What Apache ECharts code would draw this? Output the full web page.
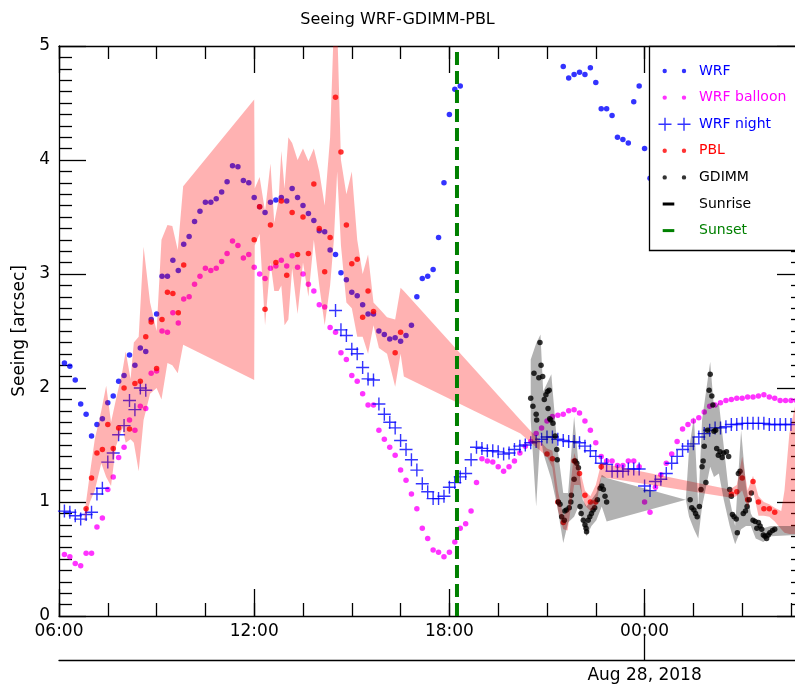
<!DOCTYPE html>
<html><head><meta charset="utf-8">
<script src="https://cdn.jsdelivr.net/npm/echarts@6/dist/echarts.min.js"></script>
<style>html,body{margin:0;padding:0;background:#fff}#c{width:795px;height:688px}</style>
</head><body><div id="c"></div>
<script>
const FONT = 'DejaVu Sans';
// times are "HH:MM" on Aug 27; hours >= 24 are Aug 28
const wrf = [
['06:10',2.22],['06:20',2.19],['06:30',2.07],['06:40',1.86],['06:50',1.77],['07:00',1.58],['07:10',1.68],['07:20',1.73],['07:30',1.87],['07:40',1.93],['07:50',2.06],['08:00',2.11],['08:10',2.29],['08:20',2.20],['08:30',2.35],['08:40',2.32],['08:50',2.60],['09:00',2.65],['09:10',2.98],['09:20',2.98],['09:30',3.12],['09:40',3.03],['09:50',3.26],['10:00',3.33],['10:10',3.46],['10:20',3.55],['10:30',3.63],['10:40',3.63],['10:50',3.66],['11:00',3.72],['11:10',3.81],['11:20',3.95],['11:30',3.94],['11:40',3.82],['11:50',3.80],['12:00',3.67],['12:10',3.59],['12:20',3.54],['12:30',3.63],['12:40',3.65],['12:50',3.67],['13:00',3.64],['13:10',3.75],['13:20',3.67],['13:30',3.60],['13:40',3.53],['13:50',3.47],['14:00',3.38],['14:10',3.37],['14:20',3.21],['14:30',3.17],['14:40',3.01],['14:50',2.95],['15:00',2.84],['15:10',2.81],['15:20',2.73],['15:30',2.65],['15:40',2.65],['15:50',2.50],['16:00',2.47],['16:10',2.43],['16:20',2.44],['16:30',2.41],['16:40',2.46],['16:50',2.55],['17:00',2.80],['17:10',2.96],['17:20',2.98],['17:30',3.04],['17:40',3.32],['17:50',3.80],['18:00',4.40],['18:10',4.62],['18:20',4.65],
['21:30',4.82],['21:40',4.72],['21:50',4.75],['22:00',4.77],['22:10',4.75],['22:20',4.81],['22:30',4.68],['22:40',4.45],['22:50',4.45],['23:00',4.39],['23:10',4.20],['23:20',4.18],['23:30',4.15],['23:40',4.51],['23:50',4.65],['24:00',4.10],['24:10',3.84]
];
const wrfBalloon = [
['06:10',0.54],['06:20',0.52],['06:30',0.46],['06:40',0.44],['06:50',0.55],['07:00',0.55],['07:10',0.78],['07:20',0.86],['07:30',1.11],['07:40',1.22],['07:50',1.39],['08:00',1.48],['08:10',1.72],['08:20',1.63],['08:30',1.84],['08:40',1.82],['08:50',2.13],['09:00',2.15],['09:10',2.50],['09:20',2.49],['09:30',2.66],['09:40',2.57],['09:50',2.78],['10:00',2.80],['10:10',2.91],['10:20',2.98],['10:30',3.05],['10:40',3.03],['10:50',3.05],['11:00',3.11],['11:10',3.18],['11:20',3.29],['11:30',3.25],['11:40',3.14],['11:50',3.17],['12:00',3.06],['12:10',3.00],['12:20',2.96],['12:30',3.05],['12:40',3.07],['12:50',3.12],['13:00',3.07],['13:10',3.16],['13:20',3.06],['13:30',3.00],['13:40',2.91],['13:50',2.85],['14:00',2.73],['14:10',2.71],['14:20',2.53],['14:30',2.49],['14:40',2.31],['14:50',2.25],['15:00',2.11],['15:10',2.06],['15:20',1.95],['15:30',1.85],['15:40',1.85],['15:50',1.63],['16:00',1.55],['16:10',1.48],['16:20',1.41],['16:30',1.28],['16:40',1.19],['16:50',1.07],['17:00',0.94],['17:10',0.77],['17:20',0.68],['17:30',0.58],['17:40',0.56],['17:50',0.52],['18:00',0.56],['18:10',0.65],['18:20',0.77],['18:30',0.81],['18:40',0.92],['18:50',1.17],['19:00',1.38],['19:10',1.36],['19:20',1.35],['19:30',1.31],['19:40',1.27],['19:50',1.31],['20:00',1.36],['20:10',1.43],['20:20',1.49],['20:30',1.53],['20:40',1.60],['20:50',1.65],['21:00',1.71],['21:10',1.75],['21:20',1.76],['21:30',1.77],['21:40',1.80],['21:50',1.81],['22:00',1.78],['22:10',1.71],['22:20',1.63],['22:30',1.52],['22:40',1.40],['22:50',1.36],['23:00',1.36],['23:10',1.32],['23:20',1.32],['23:30',1.36],['23:40',1.36],['23:50',1.31],['24:00',1.00],['24:10',0.91],['24:20',1.13],['24:30',1.24],['24:40',1.34],['24:50',1.42],['25:00',1.53],['25:10',1.64],['25:20',1.68],['25:30',1.71],['25:40',1.74],['25:50',1.79],['26:00',1.84],['26:10',1.85],['26:20',1.87],['26:30',1.89],['26:40',1.90],['26:50',1.91],['27:00',1.91],['27:10',1.92],['27:20',1.92],['27:30',1.93],['27:40',1.94],['27:50',1.92],['28:00',1.91],['28:10',1.89],['28:20',1.89],['28:30',1.89],['28:40',1.89]
];
const wrfNight = [
['06:10',0.92],['06:20',0.91],['06:30',0.88],['06:40',0.85],['06:50',0.89],['07:00',0.91],['07:10',1.07],['07:20',1.12],['07:30',1.35],['07:40',1.43],['07:50',1.59],['08:00',1.67],['08:10',1.89],['08:20',1.81],['08:30',2.00],['08:40',1.98],
['14:30',2.68],['14:40',2.51],['14:50',2.46],['15:00',2.34],['15:10',2.30],['15:20',2.18],['15:30',2.08],['15:40',2.07],['15:50',1.86],['16:00',1.77],['16:10',1.70],['16:20',1.65],['16:30',1.54],['16:40',1.46],['16:50',1.37],['17:00',1.28],['17:10',1.16],['17:20',1.09],['17:30',1.03],['17:40',1.03],['17:50',1.05],['18:00',1.13],['18:10',1.17],['18:20',1.22],['18:30',1.25],['18:40',1.37],['18:50',1.48],['19:00',1.47],['19:10',1.45],['19:20',1.45],['19:30',1.44],['19:40',1.42],['19:50',1.43],['20:00',1.46],['20:10',1.49],['20:20',1.50],['20:30',1.52],['20:40',1.53],['20:50',1.55],['21:00',1.57],['21:10',1.57],['21:20',1.55],['21:30',1.54],['21:40',1.53],['21:50',1.53],['22:00',1.52],['22:10',1.49],['22:20',1.45],['22:30',1.40],['22:40',1.34],['22:50',1.33],['23:00',1.27],['23:10',1.27],['23:20',1.27],['23:30',1.29],['23:40',1.29],['23:50',1.29],['24:00',1.14],['24:10',1.10],['24:20',1.18],['24:30',1.20],['24:40',1.25],['24:50',1.34],['25:00',1.40],['25:10',1.46],['25:20',1.49],['25:30',1.51],['25:40',1.57],['25:50',1.60],['26:00',1.63],['26:10',1.65],['26:20',1.65],['26:30',1.66],['26:40',1.68],['26:50',1.68],['27:00',1.69],['27:10',1.69],['27:20',1.69],['27:30',1.69],['27:40',1.69],['27:50',1.68],['28:00',1.68],['28:10',1.68],['28:20',1.68],['28:30',1.68]
];
const pbl = [
['06:50',0.94],['07:00',1.21],['07:10',1.43],['07:20',1.46],['07:30',1.68],['07:40',1.47],['07:50',1.65],['08:00',2.00],['08:10',1.64],['08:20',2.04],['08:30',2.06],['08:40',2.45],['08:50',2.58],['09:00',2.17],['09:10',2.60],['09:20',2.84],['09:30',2.83],['09:40',2.66],['09:50',3.08],
['12:00',3.30],['12:10',3.59],['12:20',2.69],['12:30',3.43],['12:40',3.10],['12:50',3.64],['13:00',2.99],['13:10',3.54],['13:20',3.17],['13:30',3.50],['13:40',3.18],['13:50',3.79],['14:00',3.40],['14:10',3.02],['14:20',3.32],['14:30',4.55],['14:40',4.07],['14:50',3.43],['15:00',3.09],['15:10',3.13],['15:20',2.62],['15:30',2.85],['15:40',2.67],['16:20',2.31],['16:30',2.49],
['21:00',1.42],['21:10',1.38],['21:20',1.00],['21:30',0.82],['21:50',1.36],['22:00',1.25],['22:10',1.06],['22:20',1.00],['22:30',1.00],['22:40',1.31],
['26:40',1.07],['26:50',1.09],['27:00',1.21],['27:10',1.02],['27:20',1.18],['27:30',1.00],['27:40',0.94],['27:50',0.94],['28:00',0.91]
];
const gdimm = [
['20:30',1.91],['20:34',1.84],['20:36',2.13],['20:40',1.77],['20:41',1.72],['20:45',2.09],['20:47',2.40],['20:49',2.20],['20:52',2.10],['20:55',1.90],['20:58',1.94],['21:01',1.97],['21:04',1.98],['21:02',1.82],['21:05',1.73],['21:07',1.72],['21:11',1.69],['21:15',1.58],['21:18',1.46],['21:19',1.37],['21:21',1.00],['21:24',0.98],['21:27',0.87],['21:32',0.84],['21:33',0.92],['21:36',0.93],['21:41',0.95],['21:44',1.00],['21:45',1.06],['21:50',1.20],['21:52',1.36],['21:55',1.34],['21:58',1.30],['22:01',0.96],['22:03',0.90],['22:07',0.84],['22:10',0.80],['22:12',0.77],['22:13',0.74],['22:16',0.84],['22:19',0.87],['22:22',0.90],['22:25',0.93],['22:28',0.95],['22:33',1.02],['22:38',1.12],['22:41',1.14],['22:44',1.11],['22:47',1.05],['22:50',1.00],
['25:24',1.02],['25:27',0.95],['25:31',0.93],['25:34',0.90],['25:37',0.87],['25:41',0.96],['25:44',1.11],['25:46',1.31],['25:48',1.36],['25:50',1.49],['25:53',1.17],['25:56',1.63],['25:59',1.98],['26:01',2.12],['26:04',1.93],['26:06',1.85],['26:08',1.62],['26:11',1.63],['26:13',1.47],['26:16',1.41],['26:19',1.44],['26:23',1.39],['26:26',1.43],['26:31',1.44],['26:35',1.40],['26:37',1.11],['26:40',1.05],['26:42',0.89],['26:45',0.87],['26:49',0.85],['26:51',0.73],['26:53',1.25],['26:56',1.27],['27:02',0.90],['27:06',0.92],['27:09',0.96],['27:13',1.02],['27:17',1.08],['27:20',0.84],['27:24',0.83],['27:27',0.77],['27:30',0.82],['27:33',0.79],['27:36',0.76],['27:39',0.71],['27:42',0.70],['27:45',0.68],['27:48',0.71],['27:51',0.73],['27:56',0.75],['28:00',0.76]
];
// [time, lower, upper]
const pblBand = [
['06:47',0.82,0.90],['06:57',1.00,1.25],['07:06',1.10,1.55],['07:18',1.34,1.80],['07:27',1.22,2.02],['07:36',1.14,1.70],['07:45',1.49,1.90],['07:57',1.65,2.15],['08:03',1.52,2.32],['08:12',1.55,2.08],['08:18',1.52,2.40],['08:27',1.27,2.45],['08:36',1.72,3.24],['08:48',1.95,2.75],['09:00',2.00,2.50],['09:09',1.90,3.30],['09:20',2.22,3.43],['09:29',2.20,3.42],['09:39',2.13,3.21],['09:49',2.38,3.77],['12:00',2.07,4.53],
['12:01',3.25,3.75],['12:10',3.35,3.85],['12:20',2.55,3.55],['12:30',3.10,3.97],['12:37',2.85,3.45],['12:45',2.85,3.65],['12:50',2.90,4.08],['12:56',2.55,3.75],['13:03',2.60,4.20],['13:10',3.05,4.15],['13:20',2.65,4.00],['13:30',3.10,4.10],['13:40',2.80,3.99],['13:50',3.30,4.10],['14:00',2.90,3.90],['14:10',2.55,3.60],['14:20',2.90,4.20],['14:27',3.30,5.20],['14:33',3.90,5.20],['14:40',3.25,4.00],['14:50',2.75,3.70],['15:00',2.70,3.90],['15:10',2.45,3.30],['15:20',2.45,3.00],['15:30',2.30,3.17],['15:40',2.55,2.75],['15:50',2.35,2.70],['16:05',2.30,2.62],['16:20',2.01,2.60],['16:30',2.30,2.88],['16:36',2.10,2.85],
['20:11',1.60,1.72],['21:00',1.40,1.47],['21:10',1.30,1.45],['21:20',0.93,1.10],['21:30',0.76,0.88],['21:38',0.75,0.92],['21:50',1.15,1.43],['22:00',1.15,1.30],['22:10',0.97,1.10],['22:20',0.92,1.05],['22:30',0.95,1.15],['22:40',1.22,1.34],
['26:37',1.04,1.11],['26:50',1.05,1.15],['27:00',1.10,1.40],['27:10',0.95,1.10],['27:20',1.10,1.23],['27:30',0.88,1.05],['27:40',0.88,1.00],['27:50',0.87,0.98],['28:00',0.83,0.95],['28:12',0.76,0.92],['28:18',0.73,1.10],['28:27',0.72,1.60],['28:40',0.72,1.90]
];
const gdimmBand = [
['20:30',1.72,2.25],['20:40',0.96,2.39],['20:48',1.60,2.47],['20:53',1.43,1.97],['21:08',1.20,2.12],['21:19',0.96,1.49],['21:30',0.64,1.08],['21:39',0.82,1.08],['21:50',0.87,1.75],['21:58',0.96,1.34],['22:06',0.82,1.02],['22:13',0.70,0.96],['22:22',0.79,1.02],['22:31',0.84,1.08],['22:41',0.96,1.24],['22:50',0.83,1.21],
['25:16',1.02,1.02],['25:22',0.87,1.46],['25:31',0.76,1.75],['25:39',0.68,0.96],['25:46',0.96,1.72],['26:01',1.31,2.23],['26:08',1.22,1.82],['26:17',1.25,1.87],['26:26',1.02,1.49],['26:37',0.79,1.02],['26:47',0.63,0.79],['26:58',0.76,1.63],['27:07',0.79,1.14],['27:16',0.79,0.90],['27:25',0.68,0.82],['27:39',0.65,0.77],['27:53',0.70,0.79],['28:38',0.71,0.79],['28:55',0.71,0.79]
];
const sunsetTime = '18:14';
const xMin = 6, xMax = 28.9, xMajor = 6, xMinor = 1.5;
const yMin = 0, yMax = 5, yMajor = 1;
const dateLabel = 'Aug 28, 2018';
const titleText = 'Seeing WRF-GDIMM-PBL';

function t(s){ const p = s.split(':'); return (+p[0]) + (+p[1])/60; }
const pts = a => a.map(d => [t(d[0]), d[1]]);
function hhmm(v){ const h = Math.round(v) % 24; return (h<10?'0':'') + h + ':00'; }

const BLUE='#0000ff', MAG='#ff00ff', RED='#ff0000', BLK='#000000', GRN='#008000';
const crossPath = 'path://M5.8 0h1.4v13h-1.4zM0 5.8h13v1.4h-13z';
const iconDots = 'path://M0 0M36 14M4.5 7a2.2 2.2 0 1 0 4.4 0a2.2 2.2 0 1 0 -4.4 0zM23.8 7a2.2 2.2 0 1 0 4.4 0a2.2 2.2 0 1 0 -4.4 0z';
const iconCross = 'path://M0 0M36 14M0.5 6.3h13v1.4h-13zM6.3 0.5h1.4v13h-1.4zM19.5 6.3h13v1.4h-13zM25.3 0.5h1.4v13h-1.4z';
const iconLine = 'path://M0 0M36 14M4.7 5.5h11.6v3h-11.6z';

function bandSeries(band, fill, z){
  return {
    type:'custom', coordinateSystem:'cartesian2d', xAxisIndex:0, yAxisIndex:0, z, silent:true,
    data:[[xMin, yMin]],
    renderItem(params, api){
      const up = band.map(b => api.coord([t(b[0]), b[2]]));
      const lo = band.slice().reverse().map(b => api.coord([t(b[0]), b[1]]));
      const cs = params.coordSys;
      return {type:'polygon', shape:{points: up.concat(lo)}, style:{fill},
        clipPath:{type:'rect', shape:{x:cs.x, y:cs.y, width:cs.width, height:cs.height}}};
    }
  };
}

const axLine = {color:'#000', width:1.3};
const xBase = {type:'value', min:xMin, max:xMax, splitLine:{show:false}};
const yBase = {type:'value', min:yMin, max:yMax, interval:yMajor, splitLine:{show:false}};

const chart = echarts.init(document.getElementById('c'));
chart.setOption({
  animation:false,
  backgroundColor:'#fff',
  title:{text:titleText, left:'center', top:7, textStyle:{fontFamily:FONT, fontSize:16, fontWeight:'normal', color:'#000'}},
  grid:{left:59, top:46, width:745, height:570, outerBoundsMode:'none', containLabel:false},
  xAxis:[
    {...xBase, position:'bottom', interval:xMajor,
      axisLine:{show:true, onZero:false, lineStyle:axLine},
      axisTick:{show:true, inside:true, length:27, lineStyle:axLine},
      axisLabel:{show:true, margin:7, fontFamily:FONT, fontSize:17, color:'#000', formatter:v => (Math.abs(v % xMajor) < 1e-9 ? hhmm(v) : '')}},
    {...xBase, position:'bottom', interval:xMinor,
      axisLine:{show:false, onZero:false}, axisTick:{show:true, inside:true, length:13, lineStyle:axLine}, axisLabel:{show:false}},
    {...xBase, position:'top', interval:xMajor,
      axisLine:{show:true, onZero:false, lineStyle:axLine}, axisTick:{show:true, inside:true, length:27, lineStyle:axLine}, axisLabel:{show:false}},
    {...xBase, position:'top', interval:xMinor,
      axisLine:{show:false, onZero:false}, axisTick:{show:true, inside:true, length:13, lineStyle:axLine}, axisLabel:{show:false}},
    {...xBase, position:'bottom', offset:44, interval:xMajor,
      axisLine:{show:true, onZero:false, lineStyle:axLine},
      axisTick:{show:true, inside:true, length:24, lineStyle:axLine, customValues:[24]},
      axisLabel:{show:true, margin:7, fontFamily:FONT, fontSize:17, color:'#000', customValues:[24], formatter:() => dateLabel}}
  ],
  yAxis:[
    {...yBase, position:'left',
      name:'Seeing [arcsec]', nameLocation:'middle', nameGap:21.5, nameRotate:90,
      nameTextStyle:{fontFamily:FONT, fontSize:17, color:'#000'},
      axisLine:{show:true, onZero:false, lineStyle:axLine},
      axisTick:{show:true, inside:true, length:27, lineStyle:axLine},
      minorTick:{show:true, splitNumber:10, length:13, lineStyle:axLine},
      axisLabel:{show:true, margin:9, fontFamily:FONT, fontSize:17, color:'#000'}},
    {...yBase, position:'right',
      axisLine:{show:true, onZero:false, lineStyle:axLine},
      axisTick:{show:true, inside:true, length:27, lineStyle:axLine},
      minorTick:{show:true, splitNumber:10, length:13, lineStyle:axLine},
      axisLabel:{show:false}}
  ],
  legend:{
    orient:'vertical', left:658, top:63, padding:0, itemWidth:36, itemHeight:14, itemGap:10.6,
    selectedMode:false, z:20,
    textStyle:{fontFamily:FONT, fontSize:14, lineHeight:16},
    data:[
      {name:'WRF', icon:iconDots, textStyle:{color:BLUE}},
      {name:'WRF balloon', icon:iconDots, textStyle:{color:MAG}},
      {name:'WRF night', icon:iconCross, textStyle:{color:BLUE}},
      {name:'PBL', icon:iconDots, textStyle:{color:RED}},
      {name:'GDIMM', icon:iconDots, textStyle:{color:BLK}},
      {name:'Sunrise', icon:iconLine, textStyle:{color:BLK}},
      {name:'Sunset', icon:iconLine, textStyle:{color:GRN}}
    ]
  },
  graphic:[
    {type:'rect', z:10, shape:{x:649.5, y:46.5, width:200, height:204}, style:{fill:'#fff', stroke:'#000', lineWidth:1.3}}
  ],
  series:[
    {type:'scatter', name:'WRF', data:pts(wrf), symbol:'circle', symbolSize:5.5, itemStyle:{color:BLUE}, z:2, silent:true},
    {type:'scatter', name:'WRF balloon', data:pts(wrfBalloon), symbol:'circle', symbolSize:5.5, itemStyle:{color:MAG}, z:2, silent:true},
    {type:'scatter', name:'WRF night', data:pts(wrfNight), symbol:crossPath, symbolSize:13, itemStyle:{color:BLUE}, z:2, silent:true},
    {type:'scatter', name:'PBL', data:pts(pbl), symbol:'circle', symbolSize:5.5, itemStyle:{color:RED}, z:2, silent:true},
    {type:'scatter', name:'GDIMM', data:pts(gdimm), symbol:'circle', symbolSize:5.5, itemStyle:{color:BLK}, z:2, silent:true},
    bandSeries(pblBand, 'rgba(255,0,0,0.3)', 3),
    bandSeries(gdimmBand, 'rgba(0,0,0,0.3)', 3),
    {type:'line', name:'Sunrise', data:[], symbol:'none', color:BLK, itemStyle:{color:BLK}, lineStyle:{color:BLK, width:4, type:[13,6]}, z:4, silent:true},
    {type:'line', name:'Sunset', data:[[t(sunsetTime), yMin],[t(sunsetTime), yMax]], symbol:'none', color:GRN, itemStyle:{color:GRN},
      lineStyle:{color:GRN, width:4, type:[13,6]}, z:4, silent:true}
  ]
});
</script>
</body></html>
